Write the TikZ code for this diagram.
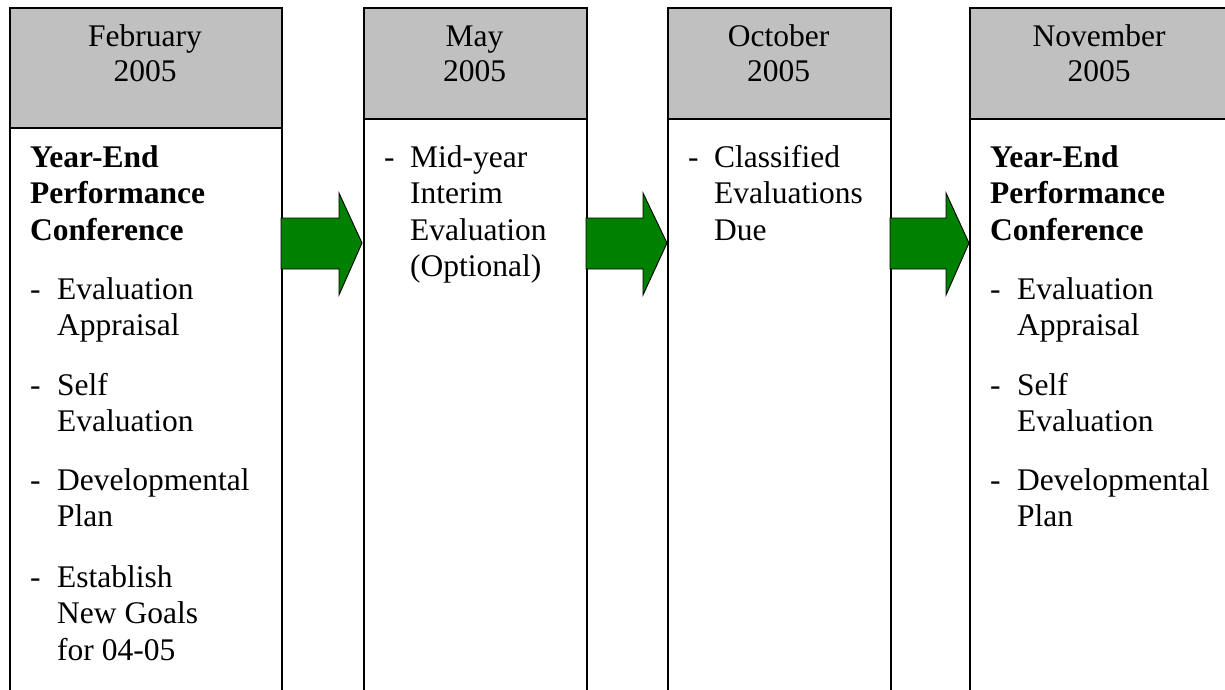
\documentclass[tikz,border=0pt]{standalone}
\usepackage{fontspec}
\setmainfont{Liberation Serif}
\definecolor{hdrgray}{HTML}{C0C0C0}
\definecolor{arrgreen}{HTML}{008000}
\tikzset{
  colbox/.style={draw=black, line width=1.8pt, inner sep=0pt, anchor=north west},
  hdrbox/.style={colbox, fill=hdrgray},
  bodybox/.style={colbox, fill=white},
  txt/.style={inner sep=0pt, anchor=base west, align=left, font=\fontsize{31.5}{36.5}\selectfont},
  hdrtxt/.style={inner sep=0pt, anchor=base, align=center, font=\fontsize{31.5}{35}\selectfont},
  bold/.style={txt, font=\fontsize{31.5}{36.5}\selectfont\bfseries},
  blockarrow/.style={draw=black, line width=0.9pt, fill=arrgreen, line join=miter}
}
\begin{document}
\begin{tikzpicture}[x=1pt,y=-1pt]
\useasboundingbox (0,0) rectangle (1225,690);
\clip (0,0) rectangle (1225,690);
% column 1
\node[hdrbox, minimum width=272pt, minimum height=120pt] (h1) at (9,7) {};
\node[bodybox, minimum width=272pt, minimum height=620pt] (b1) at (9,127) {};
% column 2
\node[hdrbox, minimum width=223pt, minimum height=111pt] (h2) at (363,7) {};
\node[bodybox, minimum width=223pt, minimum height=620pt] (b2) at (363,118) {};
% column 3
\node[hdrbox, minimum width=223pt, minimum height=111pt] (h3) at (667,7) {};
\node[bodybox, minimum width=223pt, minimum height=620pt] (b3) at (667,118) {};
% column 4
\node[hdrbox, minimum width=262pt, minimum height=111pt] (h4) at (969,7) {};
\node[bodybox, minimum width=262pt, minimum height=620pt] (b4) at (969,118) {};

% header texts (anchor = baseline of last line)
\node[hdrtxt] (t1) at (145,82) {February\\2005};
\node[hdrtxt] (t2) at (474.5,82) {May\\2005};
\node[hdrtxt] (t3) at (778.5,82) {October\\2005};
\node[hdrtxt] (t4) at (1099,82) {November\\2005};

% column 1 body
\node[bold] (c1title) at (30,240) {Year-End\\Performance\\Conference};
\node[txt] (c1d1) at (30,299) {-};
\node[txt] (c1i1) at (57,335.5) {Evaluation\\Appraisal};
\node[txt] (c1d2) at (30,395) {-};
\node[txt] (c1i2) at (57,431.5) {Self\\Evaluation};
\node[txt] (c1d3) at (30,490) {-};
\node[txt] (c1i3) at (57,526.5) {Developmental\\Plan};
\node[txt] (c1d4) at (30,587) {-};
\node[txt] (c1i4) at (57,660) {Establish\\New Goals\\for 04-05};

% column 2 body
\node[txt] (c2d1) at (384,167) {-};
\node[txt] (c2i1) at (410,276.5) {Mid-year\\Interim\\Evaluation\\(Optional)};

% column 3 body
\node[txt] (c3d1) at (688,167) {-};
\node[txt] (c3i1) at (714,240) {Classified\\Evaluations\\Due};

% column 4 body
\node[bold] (c4title) at (990,240) {Year-End\\Performance\\Conference};
\node[txt] (c4d1) at (990,299) {-};
\node[txt] (c4i1) at (1017,335.5) {Evaluation\\Appraisal};
\node[txt] (c4d2) at (990,395) {-};
\node[txt] (c4i2) at (1017,431.5) {Self\\Evaluation};
\node[txt] (c4d3) at (990,490) {-};
\node[txt] (c4i3) at (1017,526.5) {Developmental\\Plan};

% block arrows
\draw[blockarrow] (281,218) -- (339,218) -- (339,193) -- (362,243) -- (339,295) -- (339,269) -- (281,269) -- cycle;
\draw[blockarrow] (586,218) -- (643,218) -- (643,193) -- (667,243) -- (643,295) -- (643,269) -- (586,269) -- cycle;
\draw[blockarrow] (890,218) -- (946,218) -- (946,193) -- (969,243) -- (946,295) -- (946,269) -- (890,269) -- cycle;
\end{tikzpicture}
\end{document}
